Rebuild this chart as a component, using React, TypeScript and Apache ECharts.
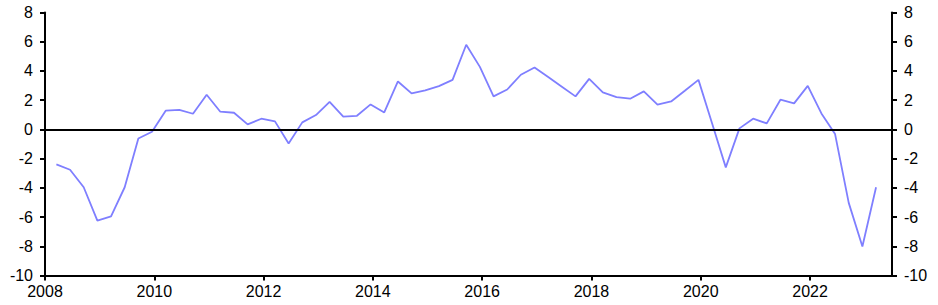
import React, { useEffect, useRef } from "react";
import * as echarts from "echarts";

const startYear = 2008;
const quarterLabels: string[] = [];
for (let y = 2008; y <= 2023; y++) {
  for (let q = 1; q <= 4; q++) {
    if (y === 2023 && q > 1) break;
    quarterLabels.push(`${y}Q${q}`);
  }
}

const values: number[] = [
  -2.39, -2.76, -3.96, -6.24,
  -5.95, -3.96, -0.62, -0.16,
  1.28, 1.34, 1.07, 2.37,
  1.21, 1.14, 0.34, 0.73,
  0.55, -0.96, 0.48, 0.98,
  1.89, 0.87, 0.93, 1.71,
  1.16, 3.28, 2.46, 2.67,
  2.96, 3.39, 5.79, 4.28,
  2.26, 2.73, 3.74, 4.24,
  3.58, 2.92, 2.26, 3.46,
  2.53, 2.21, 2.10, 2.60,
  1.69, 1.91, 2.64, 3.39,
  0.41, -2.60, 0.07, 0.73,
  0.41, 2.03, 1.78, 2.98,
  1.09, -0.32, -5.03, -8.02,
  -3.96,
];

function quarterToX(label: string): number {
  const y = parseInt(label.slice(0, 4), 10);
  const q = parseInt(label.slice(5), 10);
  return y + (q * 3 - 0.5) / 12;
}

export default function App() {
  const ref = useRef<HTMLDivElement>(null);
  useEffect(() => {
    document.body.style.margin = "0";
    if (!ref.current) return;
    const chart = echarts.init(ref.current, undefined, { renderer: "svg" });
    const font = "'Liberation Sans', Arial, sans-serif";
    const axisLine = { show: true, onZero: false, lineStyle: { color: "#000", width: 2 } };
    const yAxisCommon = {
      type: "value" as const,
      min: -10,
      max: 8,
      interval: 2,
      axisLine,
      axisTick: { show: true, inside: false, length: 5, lineStyle: { color: "#000", width: 2 } },
      splitLine: { show: false },
      axisLabel: { color: "#000", fontSize: 16, fontFamily: font, margin: 12 },
    };
    chart.setOption({
      animation: false,
      grid: { left: 45, right: 46, top: 12.5, bottom: 29.5, containLabel: false },
      xAxis: {
        type: "value",
        position: "bottom",
        min: startYear,
        max: 2023.5,
        interval: 2,
        axisLine,
        axisTick: {
          show: true,
          inside: false,
          length: 5,
          lineStyle: { color: "#000", width: 2 },
        },
        axisLabel: {
          color: "#000",
          fontSize: 16,
          fontFamily: font,
          margin: 8,
          showMaxLabel: false,
          formatter: (v: number) => (v % 2 === 0 ? String(v) : ""),
        },
        splitLine: { show: false },
      },
      yAxis: [
        { ...yAxisCommon, position: "left" },
        { ...yAxisCommon, position: "right" },
      ],
      series: [
        {
          type: "line",
          yAxisIndex: 0,
          data: quarterLabels.map((l, i) => [quarterToX(l), values[i]]),
          showSymbol: false,
          symbol: "none",
          lineStyle: { color: "#7f7fff", width: 1.8 },
          itemStyle: { color: "#7f7fff" },
          markLine: {
            silent: true,
            symbol: "none",
            label: { show: false },
            lineStyle: { color: "#000", width: 2, type: "solid" },
            data: [{ yAxis: 0 }],
          },
          z: 3,
        },
      ],
    });
    return () => chart.dispose();
  }, []);
  return <div ref={ref} style={{ width: 938, height: 305 }} />;
}
